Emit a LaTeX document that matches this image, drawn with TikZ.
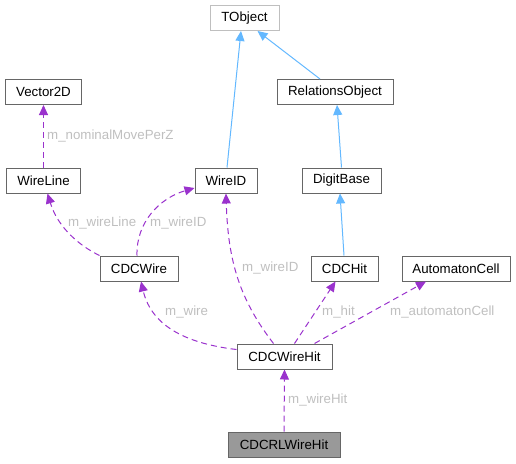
\documentclass[tikz,border=0pt]{standalone}
\usepackage{fontspec}
\setmainfont{Liberation Sans}
\usepackage{tikz}
\usetikzlibrary{arrows.meta,calc}

\definecolor{edgeblue}{HTML}{63B8FF}
\definecolor{edgepurple}{HTML}{9A32CD}
\definecolor{labelgrey}{HTML}{BFBFBF}
\definecolor{boxgrey}{HTML}{666666}
\definecolor{mainfill}{HTML}{999999}

\begin{document}
\begin{tikzpicture}[x=1pt,y=-1pt,
		every node/.style={font=\fontsize{13.3}{15}\selectfont, inner sep=0pt},
		classbox/.style={draw=boxgrey, line width=1pt, fill=white, minimum height=25pt},
		memberlabel/.style={text=labelgrey, anchor=west},
		inherit/.style={draw=edgeblue, line width=1pt, -{Triangle[length=10pt,width=9pt]}},
		member/.style={draw=edgepurple, line width=1pt, dash pattern=on 6pt off 4pt, -{Triangle[length=10pt,width=9pt]}}]
		\useasboundingbox (0,0) rectangle (516,463);

		\node[classbox, draw=labelgrey, minimum width=69pt] (tobject) at (244.5,18) {TObject};
		\node[classbox, minimum width=76pt] (vector2d) at (43.5,92) {Vector2D};
		\node[classbox, minimum width=116pt] (relationsobject) at (335,92) {RelationsObject};

		\node[classbox, minimum width=74pt] (wireline) at (43.5,180.5) {WireLine};
		\node[classbox, minimum width=62pt] (wireid) at (226,180.5) {WireID};
		\node[classbox, minimum width=79pt] (digitbase) at (341.5,180.5) {DigitBase};

		\node[classbox, minimum width=78pt] (cdcwire) at (139,268.5) {CDCWire};
		\node[classbox, minimum width=67pt] (cdchit) at (344.5,268.5) {CDCHit};
		\node[classbox, minimum width=108pt] (automatoncell) at (456,268.5) {AutomatonCell};

		\node[classbox, minimum width=95pt] (cdcwirehit) at (284.5,356.5) {CDCWireHit};
		\node[classbox, fill=mainfill, minimum width=112pt] (cdcrlwirehit) at (284,444.5) {CDCRLWireHit};

		\draw[inherit] ([xshift=1pt]wireid.north) -- ([xshift=-3.5pt]tobject.south);
		\draw[inherit] ([xshift=-15pt]relationsobject.north) -- ([xshift=13pt]tobject.south);
		\draw[inherit] (digitbase.north) -- ([xshift=2pt]relationsobject.south);
		\draw[inherit] ([xshift=-0.5pt]cdchit.north) -- ([xshift=-1.5pt]digitbase.south);

		\draw[member] (wireline.north) -- (vector2d.south);
		\node[memberlabel] (lnominal) at (47,136) {m\_nominalMovePerZ};

		\draw[member] (cdcwire.north west) .. controls (80,246) and (58,228) .. ([xshift=4pt]wireline.south);
		\node[memberlabel] (lwireline) at (68,223) {m\_wireLine};

		\draw[member] ([xshift=-2pt]cdcwire.north) .. controls (136,222) and (160,198) .. ([yshift=-7.5pt]wireid.west);
		\node[memberlabel] (lwireida) at (150,223) {m\_wireID};

		\draw[member] ([xshift=-11pt]cdcwirehit.north) .. controls (240,300) and (228,262) .. (wireid.south);
		\node[memberlabel] (lwireidb) at (242,268) {m\_wireID};

		\draw[member] ([yshift=7pt]cdcwirehit.west) .. controls (190,344) and (152,328) .. ([xshift=2pt]cdcwire.south);
		\node[memberlabel] (lwire) at (165,312) {m\_wire};

		\draw[member] ([xshift=10pt]cdcwirehit.north) -- ([xshift=-9pt]cdchit.south);
		\node[memberlabel] (lhit) at (322,312) {m\_hit};

		\draw[member] ([xshift=30pt]cdcwirehit.north) -- ([xshift=-30pt]automatoncell.south);
		\node[memberlabel] (lautomaton) at (390,312) {m\_automatonCell};

		\draw[member] (cdcrlwirehit.north) -- (cdcwirehit.south);
		\node[memberlabel] (lwirehit) at (288,400) {m\_wireHit};
	\end{tikzpicture}
\end{document}
